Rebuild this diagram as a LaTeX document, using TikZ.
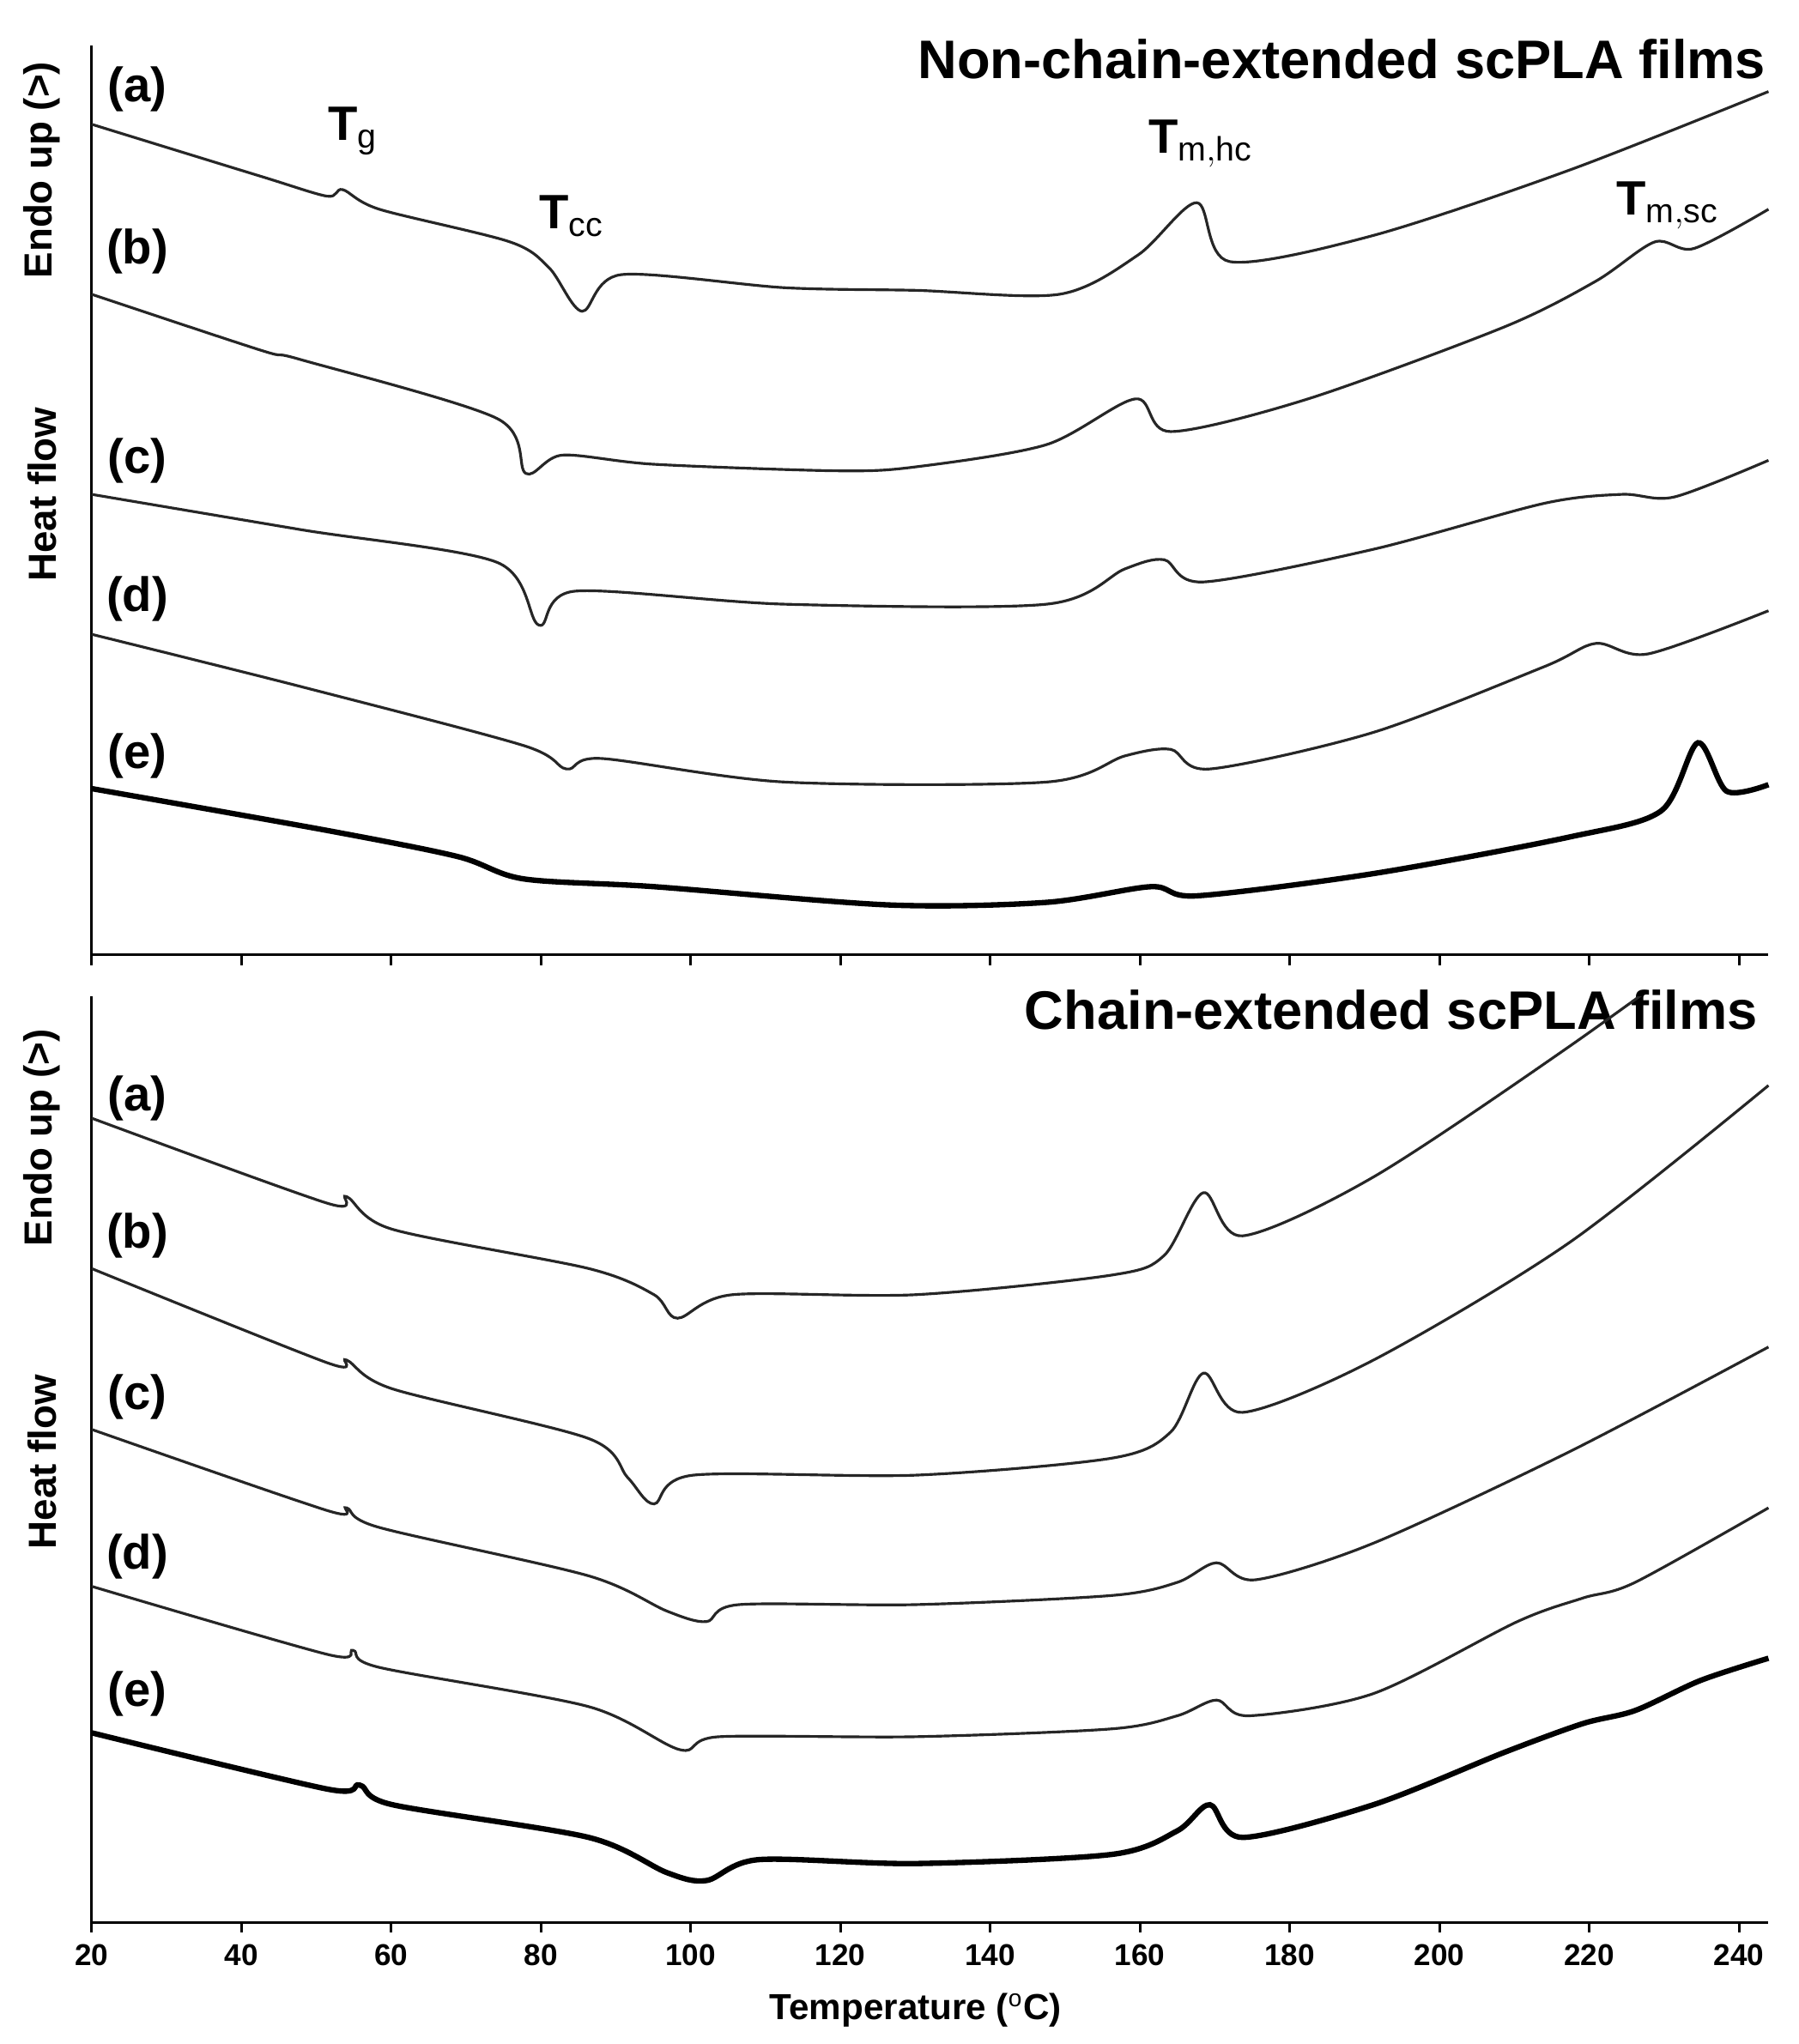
\documentclass[tikz,border=0pt]{standalone}
\usepackage{fontspec}
\setmainfont{Liberation Sans}
\begin{document}
\begin{tikzpicture}[x=0.015236cm,y=-0.015236cm,
 crv/.style={line width=0.9pt,black!85},
 thk/.style={line width=1.8pt,black},
 lab/.style={font=\fontsize{16}{18}\selectfont\bfseries},
 ttl/.style={font=\fontsize{18}{20}\selectfont\bfseries},
 tck/.style={font=\fontsize{10}{12}\selectfont\bfseries},
 ax/.style={line width=0.9pt}]
\useasboundingbox (0,0) rectangle (1375,1563);
% axes
\draw[ax] (70,35) -- (70,730) -- (1352,730);
\draw[ax] (70,762) -- (70,1470) -- (1352,1470);
\foreach \i in {0,...,11}{
 \draw[ax] (70+\i*114.5,730) -- (70+\i*114.5,738);
 \draw[ax] (70+\i*114.5,1470) -- (70+\i*114.5,1478);
 \pgfmathtruncatemacro{\t}{20+20*\i}
 \node[tck] (t\i) at (70+\i*114.5,1495) {\t};
}
\node[font=\fontsize{12}{14}\selectfont\bfseries] (xl) at (700,1537) {Temperature ($^{\mathrm{o}}$C)};
\foreach \yy/\n in {0/top,740/bot}{
 \node[rotate=90,font=\fontsize{13}{15}\selectfont\bfseries] (endo\n) at (32,130+\yy) {Endo up (>)};
 \node[rotate=90,font=\fontsize{13}{15}\selectfont\bfseries] (heat\n) at (32,378+\yy) {Heat flow};
}
\node[ttl,anchor=east] (tt1) at (1358,45) {Non-chain-extended scPLA films};
\node[ttl,anchor=east] (tt2) at (1352,772) {Chain-extended scPLA films};
\foreach \l/\yy/\n in {a/68/ta,b/192/tb,c/352/tc,d/458/td,e/578/te,a/840/ba,b/945/bb,c/1068/bc,d/1190/bd,e/1295/be}
 \node[lab] (\n) at (105,\yy) {(\l)};
\node[lab] (tg) at (270,100) {T$_{\mathrm{g}}$};
\node[lab] (tcc) at (437,165) {T$_{\mathrm{cc}}$};
\node[lab] (tmhc) at (918,110) {T$_{\mathrm{m,hc}}$};
\node[lab] (tmsc) at (1275,157) {T$_{\mathrm{m,sc}}$};
% top curves
\draw[crv] plot[smooth,tension=0.5] coordinates {(70,95)(200,135)(250,150)(262,145)(290,160)(390,185)(420,205)(445,238)(475,210)(600,220)(700,222)(810,225)(870,195)(915,155)(940,200)(1050,180)(1200,130)(1352,70)};
\draw[crv] plot[smooth,tension=0.5] coordinates {(70,225)(200,268)(230,275)(380,320)(402,362)(430,348)(500,355)(640,360)(700,357)(800,340)(868,305)(895,330)(1000,305)(1150,250)(1220,215)(1265,185)(1295,190)(1352,160)};
\draw[crv] plot[smooth,tension=0.5] coordinates {(70,378)(230,405)(380,430)(412,478)(440,452)(600,462)(800,462)(860,435)(890,428)(920,445)(1050,420)(1180,385)(1240,378)(1280,380)(1352,352)};
\draw[crv] plot[smooth,tension=0.5] coordinates {(70,485)(230,525)(400,570)(433,588)(460,580)(600,598)(800,598)(860,578)(895,573)(925,588)(1050,560)(1180,510)(1220,492)(1260,500)(1352,467)};
\draw[thk] plot[smooth,tension=0.5] coordinates {(70,603)(250,635)(350,655)(400,672)(500,678)(680,692)(800,690)(880,678)(915,685)(1050,668)(1200,640)(1270,620)(1298,568)(1320,605)(1352,600)};
% bottom curves
\begin{scope}
\clip (70,762) rectangle (1360,1470);
\draw[crv] plot[smooth,tension=0.5] coordinates {(70,855)(250,920)(265,915)(300,940)(450,970)(500,990)(518,1008)(560,990)(700,990)(850,975)(890,960)(920,912)(950,945)(1050,900)(1200,800)(1352,690)};
\draw[crv] plot[smooth,tension=0.5] coordinates {(70,970)(250,1042)(265,1040)(300,1062)(450,1100)(480,1130)(500,1150)(530,1128)(700,1128)(850,1115)(895,1095)(920,1050)(950,1080)(1050,1040)(1200,950)(1352,830)};
\draw[crv] plot[smooth,tension=0.5] coordinates {(70,1093)(250,1155)(265,1153)(290,1168)(450,1205)(510,1232)(540,1240)(565,1227)(700,1227)(850,1220)(900,1210)(930,1195)(960,1208)(1050,1180)(1200,1110)(1352,1030)};
\draw[crv] plot[smooth,tension=0.5] coordinates {(70,1213)(250,1265)(270,1262)(290,1275)(450,1305)(520,1338)(550,1328)(700,1328)(850,1322)(900,1312)(930,1300)(955,1312)(1050,1295)(1160,1240)(1210,1222)(1250,1210)(1352,1153)};
\draw[thk] plot[smooth,tension=0.5] coordinates {(70,1325)(250,1368)(275,1365)(300,1380)(450,1405)(510,1432)(540,1438)(580,1422)(700,1425)(850,1418)(900,1400)(925,1380)(950,1405)(1050,1380)(1150,1340)(1210,1318)(1250,1308)(1300,1285)(1352,1268)};
\end{scope}
\end{tikzpicture}
\end{document}
